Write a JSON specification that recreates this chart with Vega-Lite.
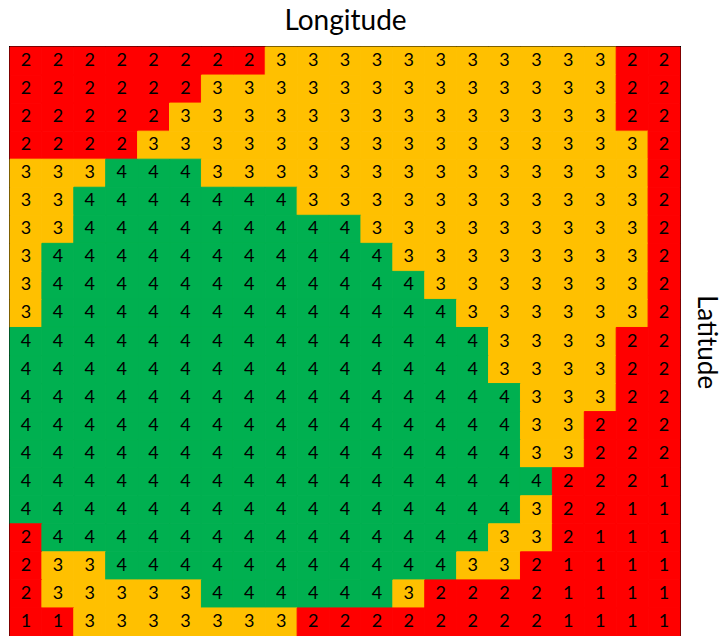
{
  "$schema": "https://vega.github.io/schema/vega-lite/v6.json",
  "width": 670,
  "height": 589,
  "autosize": {"type": "none"},
  "padding": {"left": 10, "top": 47, "right": 43, "bottom": 0},
  "background": "white",
  "config": {"view": {"stroke": "#000000", "strokeWidth": 2}},
  "data": {"values": [
{"r":1,"c":1,"v":2},{"r":1,"c":2,"v":2},{"r":1,"c":3,"v":2},{"r":1,"c":4,"v":2},{"r":1,"c":5,"v":2},{"r":1,"c":6,"v":2},{"r":1,"c":7,"v":2},{"r":1,"c":8,"v":2},{"r":1,"c":9,"v":3},{"r":1,"c":10,"v":3},{"r":1,"c":11,"v":3},{"r":1,"c":12,"v":3},{"r":1,"c":13,"v":3},{"r":1,"c":14,"v":3},{"r":1,"c":15,"v":3},{"r":1,"c":16,"v":3},{"r":1,"c":17,"v":3},{"r":1,"c":18,"v":3},{"r":1,"c":19,"v":3},{"r":1,"c":20,"v":2},{"r":1,"c":21,"v":2},
{"r":2,"c":1,"v":2},{"r":2,"c":2,"v":2},{"r":2,"c":3,"v":2},{"r":2,"c":4,"v":2},{"r":2,"c":5,"v":2},{"r":2,"c":6,"v":2},{"r":2,"c":7,"v":3},{"r":2,"c":8,"v":3},{"r":2,"c":9,"v":3},{"r":2,"c":10,"v":3},{"r":2,"c":11,"v":3},{"r":2,"c":12,"v":3},{"r":2,"c":13,"v":3},{"r":2,"c":14,"v":3},{"r":2,"c":15,"v":3},{"r":2,"c":16,"v":3},{"r":2,"c":17,"v":3},{"r":2,"c":18,"v":3},{"r":2,"c":19,"v":3},{"r":2,"c":20,"v":2},{"r":2,"c":21,"v":2},
{"r":3,"c":1,"v":2},{"r":3,"c":2,"v":2},{"r":3,"c":3,"v":2},{"r":3,"c":4,"v":2},{"r":3,"c":5,"v":2},{"r":3,"c":6,"v":3},{"r":3,"c":7,"v":3},{"r":3,"c":8,"v":3},{"r":3,"c":9,"v":3},{"r":3,"c":10,"v":3},{"r":3,"c":11,"v":3},{"r":3,"c":12,"v":3},{"r":3,"c":13,"v":3},{"r":3,"c":14,"v":3},{"r":3,"c":15,"v":3},{"r":3,"c":16,"v":3},{"r":3,"c":17,"v":3},{"r":3,"c":18,"v":3},{"r":3,"c":19,"v":3},{"r":3,"c":20,"v":2},{"r":3,"c":21,"v":2},
{"r":4,"c":1,"v":2},{"r":4,"c":2,"v":2},{"r":4,"c":3,"v":2},{"r":4,"c":4,"v":2},{"r":4,"c":5,"v":3},{"r":4,"c":6,"v":3},{"r":4,"c":7,"v":3},{"r":4,"c":8,"v":3},{"r":4,"c":9,"v":3},{"r":4,"c":10,"v":3},{"r":4,"c":11,"v":3},{"r":4,"c":12,"v":3},{"r":4,"c":13,"v":3},{"r":4,"c":14,"v":3},{"r":4,"c":15,"v":3},{"r":4,"c":16,"v":3},{"r":4,"c":17,"v":3},{"r":4,"c":18,"v":3},{"r":4,"c":19,"v":3},{"r":4,"c":20,"v":3},{"r":4,"c":21,"v":2},
{"r":5,"c":1,"v":3},{"r":5,"c":2,"v":3},{"r":5,"c":3,"v":3},{"r":5,"c":4,"v":4},{"r":5,"c":5,"v":4},{"r":5,"c":6,"v":4},{"r":5,"c":7,"v":3},{"r":5,"c":8,"v":3},{"r":5,"c":9,"v":3},{"r":5,"c":10,"v":3},{"r":5,"c":11,"v":3},{"r":5,"c":12,"v":3},{"r":5,"c":13,"v":3},{"r":5,"c":14,"v":3},{"r":5,"c":15,"v":3},{"r":5,"c":16,"v":3},{"r":5,"c":17,"v":3},{"r":5,"c":18,"v":3},{"r":5,"c":19,"v":3},{"r":5,"c":20,"v":3},{"r":5,"c":21,"v":2},
{"r":6,"c":1,"v":3},{"r":6,"c":2,"v":3},{"r":6,"c":3,"v":4},{"r":6,"c":4,"v":4},{"r":6,"c":5,"v":4},{"r":6,"c":6,"v":4},{"r":6,"c":7,"v":4},{"r":6,"c":8,"v":4},{"r":6,"c":9,"v":4},{"r":6,"c":10,"v":3},{"r":6,"c":11,"v":3},{"r":6,"c":12,"v":3},{"r":6,"c":13,"v":3},{"r":6,"c":14,"v":3},{"r":6,"c":15,"v":3},{"r":6,"c":16,"v":3},{"r":6,"c":17,"v":3},{"r":6,"c":18,"v":3},{"r":6,"c":19,"v":3},{"r":6,"c":20,"v":3},{"r":6,"c":21,"v":2},
{"r":7,"c":1,"v":3},{"r":7,"c":2,"v":3},{"r":7,"c":3,"v":4},{"r":7,"c":4,"v":4},{"r":7,"c":5,"v":4},{"r":7,"c":6,"v":4},{"r":7,"c":7,"v":4},{"r":7,"c":8,"v":4},{"r":7,"c":9,"v":4},{"r":7,"c":10,"v":4},{"r":7,"c":11,"v":4},{"r":7,"c":12,"v":3},{"r":7,"c":13,"v":3},{"r":7,"c":14,"v":3},{"r":7,"c":15,"v":3},{"r":7,"c":16,"v":3},{"r":7,"c":17,"v":3},{"r":7,"c":18,"v":3},{"r":7,"c":19,"v":3},{"r":7,"c":20,"v":3},{"r":7,"c":21,"v":2},
{"r":8,"c":1,"v":3},{"r":8,"c":2,"v":4},{"r":8,"c":3,"v":4},{"r":8,"c":4,"v":4},{"r":8,"c":5,"v":4},{"r":8,"c":6,"v":4},{"r":8,"c":7,"v":4},{"r":8,"c":8,"v":4},{"r":8,"c":9,"v":4},{"r":8,"c":10,"v":4},{"r":8,"c":11,"v":4},{"r":8,"c":12,"v":4},{"r":8,"c":13,"v":3},{"r":8,"c":14,"v":3},{"r":8,"c":15,"v":3},{"r":8,"c":16,"v":3},{"r":8,"c":17,"v":3},{"r":8,"c":18,"v":3},{"r":8,"c":19,"v":3},{"r":8,"c":20,"v":3},{"r":8,"c":21,"v":2},
{"r":9,"c":1,"v":3},{"r":9,"c":2,"v":4},{"r":9,"c":3,"v":4},{"r":9,"c":4,"v":4},{"r":9,"c":5,"v":4},{"r":9,"c":6,"v":4},{"r":9,"c":7,"v":4},{"r":9,"c":8,"v":4},{"r":9,"c":9,"v":4},{"r":9,"c":10,"v":4},{"r":9,"c":11,"v":4},{"r":9,"c":12,"v":4},{"r":9,"c":13,"v":4},{"r":9,"c":14,"v":3},{"r":9,"c":15,"v":3},{"r":9,"c":16,"v":3},{"r":9,"c":17,"v":3},{"r":9,"c":18,"v":3},{"r":9,"c":19,"v":3},{"r":9,"c":20,"v":3},{"r":9,"c":21,"v":2},
{"r":10,"c":1,"v":3},{"r":10,"c":2,"v":4},{"r":10,"c":3,"v":4},{"r":10,"c":4,"v":4},{"r":10,"c":5,"v":4},{"r":10,"c":6,"v":4},{"r":10,"c":7,"v":4},{"r":10,"c":8,"v":4},{"r":10,"c":9,"v":4},{"r":10,"c":10,"v":4},{"r":10,"c":11,"v":4},{"r":10,"c":12,"v":4},{"r":10,"c":13,"v":4},{"r":10,"c":14,"v":4},{"r":10,"c":15,"v":3},{"r":10,"c":16,"v":3},{"r":10,"c":17,"v":3},{"r":10,"c":18,"v":3},{"r":10,"c":19,"v":3},{"r":10,"c":20,"v":3},{"r":10,"c":21,"v":2},
{"r":11,"c":1,"v":4},{"r":11,"c":2,"v":4},{"r":11,"c":3,"v":4},{"r":11,"c":4,"v":4},{"r":11,"c":5,"v":4},{"r":11,"c":6,"v":4},{"r":11,"c":7,"v":4},{"r":11,"c":8,"v":4},{"r":11,"c":9,"v":4},{"r":11,"c":10,"v":4},{"r":11,"c":11,"v":4},{"r":11,"c":12,"v":4},{"r":11,"c":13,"v":4},{"r":11,"c":14,"v":4},{"r":11,"c":15,"v":4},{"r":11,"c":16,"v":3},{"r":11,"c":17,"v":3},{"r":11,"c":18,"v":3},{"r":11,"c":19,"v":3},{"r":11,"c":20,"v":2},{"r":11,"c":21,"v":2},
{"r":12,"c":1,"v":4},{"r":12,"c":2,"v":4},{"r":12,"c":3,"v":4},{"r":12,"c":4,"v":4},{"r":12,"c":5,"v":4},{"r":12,"c":6,"v":4},{"r":12,"c":7,"v":4},{"r":12,"c":8,"v":4},{"r":12,"c":9,"v":4},{"r":12,"c":10,"v":4},{"r":12,"c":11,"v":4},{"r":12,"c":12,"v":4},{"r":12,"c":13,"v":4},{"r":12,"c":14,"v":4},{"r":12,"c":15,"v":4},{"r":12,"c":16,"v":3},{"r":12,"c":17,"v":3},{"r":12,"c":18,"v":3},{"r":12,"c":19,"v":3},{"r":12,"c":20,"v":2},{"r":12,"c":21,"v":2},
{"r":13,"c":1,"v":4},{"r":13,"c":2,"v":4},{"r":13,"c":3,"v":4},{"r":13,"c":4,"v":4},{"r":13,"c":5,"v":4},{"r":13,"c":6,"v":4},{"r":13,"c":7,"v":4},{"r":13,"c":8,"v":4},{"r":13,"c":9,"v":4},{"r":13,"c":10,"v":4},{"r":13,"c":11,"v":4},{"r":13,"c":12,"v":4},{"r":13,"c":13,"v":4},{"r":13,"c":14,"v":4},{"r":13,"c":15,"v":4},{"r":13,"c":16,"v":4},{"r":13,"c":17,"v":3},{"r":13,"c":18,"v":3},{"r":13,"c":19,"v":3},{"r":13,"c":20,"v":2},{"r":13,"c":21,"v":2},
{"r":14,"c":1,"v":4},{"r":14,"c":2,"v":4},{"r":14,"c":3,"v":4},{"r":14,"c":4,"v":4},{"r":14,"c":5,"v":4},{"r":14,"c":6,"v":4},{"r":14,"c":7,"v":4},{"r":14,"c":8,"v":4},{"r":14,"c":9,"v":4},{"r":14,"c":10,"v":4},{"r":14,"c":11,"v":4},{"r":14,"c":12,"v":4},{"r":14,"c":13,"v":4},{"r":14,"c":14,"v":4},{"r":14,"c":15,"v":4},{"r":14,"c":16,"v":4},{"r":14,"c":17,"v":3},{"r":14,"c":18,"v":3},{"r":14,"c":19,"v":2},{"r":14,"c":20,"v":2},{"r":14,"c":21,"v":2},
{"r":15,"c":1,"v":4},{"r":15,"c":2,"v":4},{"r":15,"c":3,"v":4},{"r":15,"c":4,"v":4},{"r":15,"c":5,"v":4},{"r":15,"c":6,"v":4},{"r":15,"c":7,"v":4},{"r":15,"c":8,"v":4},{"r":15,"c":9,"v":4},{"r":15,"c":10,"v":4},{"r":15,"c":11,"v":4},{"r":15,"c":12,"v":4},{"r":15,"c":13,"v":4},{"r":15,"c":14,"v":4},{"r":15,"c":15,"v":4},{"r":15,"c":16,"v":4},{"r":15,"c":17,"v":3},{"r":15,"c":18,"v":3},{"r":15,"c":19,"v":2},{"r":15,"c":20,"v":2},{"r":15,"c":21,"v":2},
{"r":16,"c":1,"v":4},{"r":16,"c":2,"v":4},{"r":16,"c":3,"v":4},{"r":16,"c":4,"v":4},{"r":16,"c":5,"v":4},{"r":16,"c":6,"v":4},{"r":16,"c":7,"v":4},{"r":16,"c":8,"v":4},{"r":16,"c":9,"v":4},{"r":16,"c":10,"v":4},{"r":16,"c":11,"v":4},{"r":16,"c":12,"v":4},{"r":16,"c":13,"v":4},{"r":16,"c":14,"v":4},{"r":16,"c":15,"v":4},{"r":16,"c":16,"v":4},{"r":16,"c":17,"v":4},{"r":16,"c":18,"v":2},{"r":16,"c":19,"v":2},{"r":16,"c":20,"v":2},{"r":16,"c":21,"v":1},
{"r":17,"c":1,"v":4},{"r":17,"c":2,"v":4},{"r":17,"c":3,"v":4},{"r":17,"c":4,"v":4},{"r":17,"c":5,"v":4},{"r":17,"c":6,"v":4},{"r":17,"c":7,"v":4},{"r":17,"c":8,"v":4},{"r":17,"c":9,"v":4},{"r":17,"c":10,"v":4},{"r":17,"c":11,"v":4},{"r":17,"c":12,"v":4},{"r":17,"c":13,"v":4},{"r":17,"c":14,"v":4},{"r":17,"c":15,"v":4},{"r":17,"c":16,"v":4},{"r":17,"c":17,"v":3},{"r":17,"c":18,"v":2},{"r":17,"c":19,"v":2},{"r":17,"c":20,"v":1},{"r":17,"c":21,"v":1},
{"r":18,"c":1,"v":2},{"r":18,"c":2,"v":4},{"r":18,"c":3,"v":4},{"r":18,"c":4,"v":4},{"r":18,"c":5,"v":4},{"r":18,"c":6,"v":4},{"r":18,"c":7,"v":4},{"r":18,"c":8,"v":4},{"r":18,"c":9,"v":4},{"r":18,"c":10,"v":4},{"r":18,"c":11,"v":4},{"r":18,"c":12,"v":4},{"r":18,"c":13,"v":4},{"r":18,"c":14,"v":4},{"r":18,"c":15,"v":4},{"r":18,"c":16,"v":3},{"r":18,"c":17,"v":3},{"r":18,"c":18,"v":2},{"r":18,"c":19,"v":1},{"r":18,"c":20,"v":1},{"r":18,"c":21,"v":1},
{"r":19,"c":1,"v":2},{"r":19,"c":2,"v":3},{"r":19,"c":3,"v":3},{"r":19,"c":4,"v":4},{"r":19,"c":5,"v":4},{"r":19,"c":6,"v":4},{"r":19,"c":7,"v":4},{"r":19,"c":8,"v":4},{"r":19,"c":9,"v":4},{"r":19,"c":10,"v":4},{"r":19,"c":11,"v":4},{"r":19,"c":12,"v":4},{"r":19,"c":13,"v":4},{"r":19,"c":14,"v":4},{"r":19,"c":15,"v":3},{"r":19,"c":16,"v":3},{"r":19,"c":17,"v":2},{"r":19,"c":18,"v":1},{"r":19,"c":19,"v":1},{"r":19,"c":20,"v":1},{"r":19,"c":21,"v":1},
{"r":20,"c":1,"v":2},{"r":20,"c":2,"v":3},{"r":20,"c":3,"v":3},{"r":20,"c":4,"v":3},{"r":20,"c":5,"v":3},{"r":20,"c":6,"v":3},{"r":20,"c":7,"v":4},{"r":20,"c":8,"v":4},{"r":20,"c":9,"v":4},{"r":20,"c":10,"v":4},{"r":20,"c":11,"v":4},{"r":20,"c":12,"v":4},{"r":20,"c":13,"v":3},{"r":20,"c":14,"v":2},{"r":20,"c":15,"v":2},{"r":20,"c":16,"v":2},{"r":20,"c":17,"v":2},{"r":20,"c":18,"v":1},{"r":20,"c":19,"v":1},{"r":20,"c":20,"v":1},{"r":20,"c":21,"v":1},
{"r":21,"c":1,"v":1},{"r":21,"c":2,"v":1},{"r":21,"c":3,"v":3},{"r":21,"c":4,"v":3},{"r":21,"c":5,"v":3},{"r":21,"c":6,"v":3},{"r":21,"c":7,"v":3},{"r":21,"c":8,"v":3},{"r":21,"c":9,"v":3},{"r":21,"c":10,"v":2},{"r":21,"c":11,"v":2},{"r":21,"c":12,"v":2},{"r":21,"c":13,"v":2},{"r":21,"c":14,"v":2},{"r":21,"c":15,"v":2},{"r":21,"c":16,"v":2},{"r":21,"c":17,"v":2},{"r":21,"c":18,"v":1},{"r":21,"c":19,"v":1},{"r":21,"c":20,"v":1},{"r":21,"c":21,"v":1}
  ]},
  "encoding": {
    "x": {"field": "c", "type": "ordinal", "scale": {"paddingInner": 0, "paddingOuter": 0},
      "axis": {"orient": "top", "labels": false, "ticks": false, "domain": false, "title": "Longitude",
        "titleFont": "Lato", "titleFontSize": 28, "titleFontWeight": "normal", "titleColor": "#000000", "titlePadding": 12}},
    "y": {"field": "r", "type": "ordinal", "scale": {"paddingInner": 0, "paddingOuter": 0},
      "axis": {"orient": "right", "labels": false, "ticks": false, "domain": false, "title": "Latitude",
        "titleAngle": 90, "titleFont": "Lato", "titleFontSize": 26, "titleFontWeight": "normal", "titleColor": "#000000", "titlePadding": 12}}
  },
  "layer": [
    {"mark": {"type": "rect", "strokeWidth": 1},
     "encoding": {
       "color": {"field": "v", "type": "nominal",
         "scale": {"domain": [1, 2, 3, 4], "range": ["#FF0000", "#FF0000", "#FFC000", "#00B050"]}, "legend": null},
       "stroke": {"field": "v", "type": "nominal",
         "scale": {"domain": [1, 2, 3, 4], "range": ["#FF0000", "#FF0000", "#FFC000", "#00B050"]}, "legend": null}}},
    {"mark": {"type": "text", "font": "Lato", "fontSize": 18, "color": "#000000", "baseline": "middle", "align": "center"},
     "encoding": {"text": {"field": "v", "type": "quantitative"}}}
  ]
}
